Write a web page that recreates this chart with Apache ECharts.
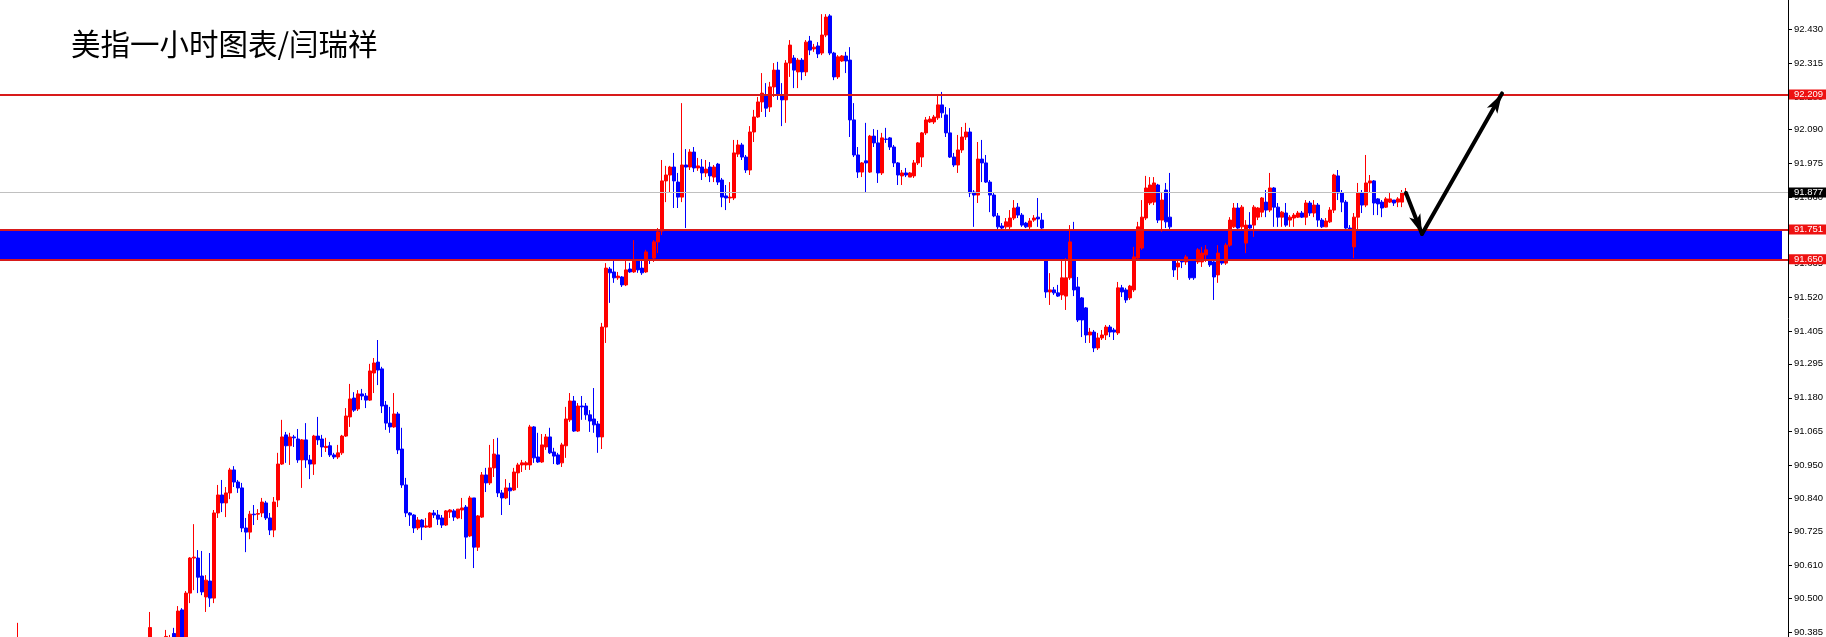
<!DOCTYPE html>
<html>
<head>
<meta charset="utf-8">
<script src="https://cdn.jsdelivr.net/npm/echarts@6/dist/echarts.min.js"></script>
<style>
html,body{margin:0;padding:0;background:#fff;}
#chart{width:1826px;height:637px;}
</style>
</head>
<body>
<div id="chart"></div>
<script>
// ---------------- data ----------------
const TITLE = '美指一小时图表/闫瑞祥';

// hourly bars, oldest first; null = bar lies below the visible price range
const OPEN = [
  90.33, null, null, null, null, null, null, null, null, null,
  null, null, null, null, null, null, null, null, null, null,
  null, null, null, null, null, null, null, null, null, null,
  null, null, null, 90.34, null, null, null, 90.33, 90.34, 90.38,
  90.35, 90.460, 90.36, 90.517, 90.636, 90.636, 90.575, 90.504, 90.558, 90.500,
  90.789, 90.850, 90.823, 90.857, 90.935, 90.894, 90.874, 90.738, 90.724, 90.785,
  90.785, 90.789, 90.823, 90.772, 90.731, 90.833, 90.955, 91.054, 91.017, 91.047,
  91.040, 90.969, 91.037, 90.969, 90.955, 91.050, 91.040, 91.011, 91.017, 90.986,
  90.979, 90.993, 91.050, 91.115, 91.179, 91.142, 91.193, 91.186, 91.172, 91.264,
  91.301, 91.278, 91.155, 91.094, 91.081, 91.125, 91.006, 90.884, 90.789, 90.782,
  90.738, 90.765, 90.741, 90.741, 90.789, 90.782, 90.772, 90.748, 90.792, 90.796,
  90.772, 90.799, 90.809, 90.711, 90.840, 90.673, 90.775, 90.918, 90.891, 90.942,
  90.986, 90.857, 90.840, 90.874, 90.867, 90.925, 90.952, 90.952, 90.952, 91.081,
  90.979, 90.962, 91.013, 91.047, 90.996, 90.986, 90.959, 91.017, 91.105, 91.169,
  91.067, 91.152, 91.152, 91.122, 91.108, 91.091, 91.047, 91.420, 91.617, 91.607,
  91.587, 91.590, 91.563, 91.617, 91.607, 91.648, 91.620, 91.607, 91.698, 91.654,
  91.709, 91.746, 91.916, 91.936, 91.963, 91.912, 91.861, 91.970, 91.963, 92.014,
  91.960, 91.963, 91.943, 91.963, 91.929, 91.973, 91.919, 91.865, 91.858, 91.858,
  92.007, 92.038, 91.997, 91.953, 92.082, 92.133, 92.184, 92.208, 92.167, 92.235,
  92.292, 92.208, 92.191, 92.316, 92.333, 92.286, 92.326, 92.286, 92.391, 92.364,
  92.374, 92.350, 92.411, 92.476, 92.350, 92.269, 92.323, 92.340, 92.326, 92.123,
  92.004, 91.946, 91.984, 91.946, 92.068, 92.045, 91.943, 92.058, 92.062, 92.031,
  91.977, 91.933, 91.943, 91.929, 91.933, 91.977, 91.997, 92.079, 92.116, 92.116,
  92.130, 92.174, 92.140, 92.079, 91.997, 91.970, 92.021, 92.065, 92.082, 91.878,
  91.868, 91.990, 91.977, 91.912, 91.868, 91.797, 91.763, 91.760, 91.760, 91.790,
  91.827, 91.800, 91.773, 91.760, 91.783, 91.793, 91.783, 91.732, 91.539, 91.546,
  91.536, 91.529, 91.525, 91.587, 91.665, 91.556, 91.519, 91.485, 91.393, 91.403,
  91.349, 91.383, 91.393, 91.420, 91.410, 91.400, 91.553, 91.546, 91.519, 91.546,
  91.654, 91.688, 91.790, 91.841, 91.844, 91.902, 91.783, 91.885, 91.793, 91.715,
  91.624, 91.648, 91.641, 91.648, 91.648, 91.641, 91.641, 91.665, 91.648, 91.641,
  91.597, 91.648, 91.637, 91.698, 91.760, 91.824, 91.760, 91.705, 91.766, 91.766,
  91.793, 91.810, 91.844, 91.817, 91.892, 91.827, 91.793, 91.807, 91.783, 91.790,
  91.793, 91.807, 91.793, 91.841, 91.807, 91.834, 91.783, 91.760, 91.777, 91.817,
  91.933, 91.875, 91.844, 91.756, 91.692, 91.793, 91.875, 91.834, 91.909, 91.916,
  91.855, 91.844, 91.827, 91.844, 91.851, 91.844, 91.844, 91.868
];
const CLOSE = [
  90.36, null, null, null, null, null, null, null, null, null,
  null, null, null, null, null, null, null, null, null, null,
  null, null, null, null, null, null, null, null, null, null,
  null, null, null, 90.40, null, null, null, 90.37, 90.36, 90.34,
  90.456, 90.36, 90.517, 90.636, 90.639, 90.571, 90.521, 90.561, 90.500, 90.789,
  90.850, 90.823, 90.857, 90.935, 90.894, 90.874, 90.738, 90.724, 90.785, 90.783,
  90.787, 90.826, 90.772, 90.731, 90.826, 90.955, 91.047, 91.017, 91.047, 91.044,
  90.969, 91.037, 90.969, 90.955, 91.050, 91.037, 91.013, 91.015, 90.986, 90.979,
  90.993, 91.050, 91.118, 91.176, 91.138, 91.193, 91.186, 91.172, 91.271, 91.298,
  91.274, 91.152, 91.094, 91.081, 91.125, 91.003, 90.884, 90.789, 90.782, 90.738,
  90.765, 90.741, 90.745, 90.789, 90.782, 90.768, 90.748, 90.796, 90.799, 90.775,
  90.802, 90.806, 90.707, 90.840, 90.673, 90.779, 90.918, 90.891, 90.942, 90.989,
  90.857, 90.840, 90.874, 90.864, 90.928, 90.952, 90.959, 90.959, 91.081, 90.976,
  90.962, 91.020, 91.047, 90.993, 90.982, 90.955, 91.020, 91.108, 91.169, 91.067,
  91.152, 91.149, 91.122, 91.101, 91.088, 91.047, 91.420, 91.620, 91.604, 91.587,
  91.593, 91.563, 91.614, 91.607, 91.648, 91.614, 91.604, 91.675, 91.665, 91.709,
  91.743, 91.916, 91.936, 91.963, 91.916, 91.861, 91.970, 91.963, 92.014, 91.960,
  91.967, 91.943, 91.956, 91.933, 91.963, 91.912, 91.861, 91.858, 91.861, 92.011,
  92.038, 91.997, 91.953, 92.082, 92.133, 92.184, 92.214, 92.163, 92.235, 92.292,
  92.208, 92.191, 92.316, 92.377, 92.292, 92.326, 92.286, 92.387, 92.360, 92.370,
  92.347, 92.411, 92.472, 92.350, 92.269, 92.337, 92.340, 92.323, 92.123, 92.004,
  91.946, 91.977, 91.977, 92.068, 92.045, 91.943, 92.062, 92.057, 92.031, 91.977,
  91.936, 91.943, 91.936, 91.943, 91.977, 92.045, 92.079, 92.123, 92.126, 92.133,
  92.174, 92.147, 92.079, 91.997, 91.970, 92.021, 92.065, 92.082, 91.875, 91.868,
  91.990, 91.977, 91.912, 91.868, 91.797, 91.760, 91.756, 91.777, 91.790, 91.824,
  91.800, 91.766, 91.760, 91.780, 91.790, 91.787, 91.756, 91.539, 91.546, 91.536,
  91.525, 91.587, 91.587, 91.709, 91.546, 91.444, 91.444, 91.393, 91.403, 91.349,
  91.383, 91.393, 91.420, 91.403, 91.403, 91.553, 91.539, 91.512, 91.559, 91.658,
  91.760, 91.793, 91.892, 91.902, 91.909, 91.783, 91.851, 91.777, 91.760, 91.614,
  91.637, 91.641, 91.658, 91.587, 91.587, 91.682, 91.671, 91.682, 91.631, 91.590,
  91.671, 91.637, 91.698, 91.783, 91.824, 91.756, 91.827, 91.766, 91.756, 91.827,
  91.824, 91.858, 91.817, 91.892, 91.827, 91.793, 91.810, 91.766, 91.793, 91.800,
  91.807, 91.793, 91.841, 91.807, 91.834, 91.783, 91.760, 91.780, 91.817, 91.936,
  91.875, 91.844, 91.756, 91.715, 91.793, 91.875, 91.834, 91.909, 91.916, 91.841,
  91.838, 91.824, 91.855, 91.855, 91.841, 91.855, 91.875, 91.877
];
const LOW = [
  90.31, null, null, null, null, null, null, null, null, null,
  null, null, null, null, null, null, null, null, null, null,
  null, null, null, null, null, null, null, null, null, null,
  null, null, null, 90.32, null, null, null, 90.31, 90.32, 90.33,
  90.33, 90.34, 90.34, 90.483, 90.527, 90.517, 90.510, 90.453, 90.470, 90.483,
  90.772, 90.792, 90.775, 90.836, 90.877, 90.857, 90.724, 90.656, 90.700, 90.748,
  90.765, 90.775, 90.765, 90.714, 90.707, 90.809, 90.952, 90.959, 90.952, 91.013,
  90.959, 90.874, 90.942, 90.904, 90.918, 91.020, 90.979, 90.996, 90.979, 90.972,
  90.972, 90.986, 91.047, 91.081, 91.132, 91.135, 91.172, 91.145, 91.169, 91.196,
  91.223, 91.128, 91.071, 91.061, 91.078, 90.989, 90.874, 90.775, 90.745, 90.721,
  90.731, 90.697, 90.738, 90.738, 90.772, 90.748, 90.738, 90.745, 90.772, 90.762,
  90.768, 90.768, 90.633, 90.707, 90.602, 90.660, 90.772, 90.860, 90.884, 90.911,
  90.843, 90.782, 90.836, 90.816, 90.864, 90.874, 90.928, 90.935, 90.935, 90.959,
  90.959, 90.959, 91.003, 90.989, 90.955, 90.952, 90.945, 90.976, 91.098, 91.064,
  91.064, 91.105, 91.105, 91.064, 91.061, 90.993, 91.006, 91.366, 91.502, 91.570,
  91.580, 91.556, 91.559, 91.604, 91.604, 91.604, 91.597, 91.604, 91.634, 91.641,
  91.671, 91.732, 91.844, 91.875, 91.824, 91.824, 91.844, 91.756, 91.953, 91.946,
  91.950, 91.919, 91.929, 91.912, 91.912, 91.902, 91.827, 91.817, 91.841, 91.851,
  91.997, 91.987, 91.943, 91.936, 92.048, 92.130, 92.150, 92.133, 92.150, 92.201,
  92.191, 92.102, 92.113, 92.269, 92.231, 92.231, 92.258, 92.272, 92.343, 92.354,
  92.333, 92.343, 92.404, 92.343, 92.258, 92.262, 92.320, 92.282, 92.065, 91.997,
  91.926, 91.929, 91.878, 91.943, 92.031, 91.909, 91.936, 92.045, 92.021, 91.963,
  91.902, 91.902, 91.929, 91.929, 91.926, 91.970, 91.963, 92.072, 92.113, 92.109,
  92.123, 92.130, 92.065, 91.994, 91.963, 91.943, 92.011, 92.055, 91.861, 91.760,
  91.841, 91.912, 91.909, 91.810, 91.793, 91.749, 91.749, 91.753, 91.749, 91.783,
  91.790, 91.760, 91.756, 91.749, 91.777, 91.760, 91.749, 91.519, 91.495, 91.529,
  91.522, 91.512, 91.478, 91.580, 91.525, 91.437, 91.386, 91.366, 91.366, 91.335,
  91.342, 91.376, 91.376, 91.386, 91.376, 91.393, 91.522, 91.502, 91.512, 91.539,
  91.648, 91.682, 91.783, 91.834, 91.834, 91.773, 91.743, 91.756, 91.715, 91.590,
  91.580, 91.620, 91.631, 91.580, 91.580, 91.634, 91.624, 91.641, 91.624, 91.512,
  91.570, 91.631, 91.631, 91.692, 91.756, 91.739, 91.753, 91.671, 91.753, 91.726,
  91.783, 91.793, 91.793, 91.810, 91.760, 91.760, 91.760, 91.760, 91.760, 91.760,
  91.790, 91.790, 91.766, 91.797, 91.793, 91.760, 91.756, 91.760, 91.773, 91.807,
  91.851, 91.810, 91.753, 91.698, 91.654, 91.749, 91.807, 91.827, 91.875, 91.800,
  91.800, 91.793, 91.824, 91.841, 91.831, 91.827, 91.827, 91.865
];
const HIGH = [
  90.416, null, null, null, null, null, null, null, null, null,
  null, null, null, null, null, null, null, null, null, null,
  null, null, null, null, null, null, null, null, null, null,
  null, null, null, 90.453, null, null, null, 90.392, 90.375, 90.399,
  90.473, 90.466, 90.524, 90.639, 90.751, 90.663, 90.660, 90.578, 90.653, 90.799,
  90.884, 90.901, 90.877, 90.942, 90.948, 90.901, 90.891, 90.772, 90.796, 90.816,
  90.802, 90.840, 90.830, 90.789, 90.843, 90.993, 91.105, 91.064, 91.061, 91.054,
  91.074, 91.040, 91.094, 90.986, 91.054, 91.115, 91.054, 91.044, 91.030, 90.993,
  91.020, 91.054, 91.145, 91.227, 91.199, 91.206, 91.210, 91.196, 91.295, 91.315,
  91.376, 91.285, 91.169, 91.149, 91.196, 91.132, 91.078, 90.908, 90.792, 90.785,
  90.775, 90.768, 90.772, 90.792, 90.799, 90.799, 90.782, 90.799, 90.802, 90.802,
  90.802, 90.840, 90.816, 90.847, 90.840, 90.782, 90.928, 90.942, 91.020, 91.040,
  91.044, 90.867, 90.904, 90.891, 90.942, 90.959, 90.969, 90.965, 91.088, 91.084,
  91.061, 91.057, 91.057, 91.078, 91.010, 90.993, 91.027, 91.149, 91.196, 91.186,
  91.162, 91.186, 91.162, 91.138, 91.213, 91.101, 91.434, 91.637, 91.624, 91.648,
  91.607, 91.593, 91.648, 91.638, 91.715, 91.651, 91.648, 91.682, 91.715, 91.715,
  91.756, 91.987, 91.967, 91.967, 92.011, 91.943, 92.180, 92.024, 92.024, 92.031,
  91.994, 91.990, 91.987, 91.980, 91.970, 91.977, 91.926, 91.902, 91.912, 92.055,
  92.055, 92.045, 92.004, 92.102, 92.157, 92.201, 92.282, 92.248, 92.252, 92.316,
  92.320, 92.248, 92.326, 92.394, 92.343, 92.333, 92.333, 92.394, 92.408, 92.381,
  92.387, 92.482, 92.482, 92.482, 92.354, 92.343, 92.343, 92.354, 92.370, 92.180,
  92.031, 91.980, 92.113, 92.072, 92.092, 92.089, 92.079, 92.096, 92.065, 92.038,
  91.980, 91.953, 91.960, 91.946, 91.987, 92.048, 92.082, 92.133, 92.136, 92.140,
  92.208, 92.218, 92.167, 92.163, 92.011, 92.072, 92.099, 92.113, 92.096, 91.885,
  92.048, 92.055, 92.004, 91.919, 91.875, 91.807, 91.773, 91.790, 91.817, 91.851,
  91.841, 91.807, 91.777, 91.790, 91.800, 91.858, 91.807, 91.749, 91.603, 91.556,
  91.563, 91.648, 91.654, 91.766, 91.777, 91.590, 91.522, 91.488, 91.417, 91.410,
  91.400, 91.410, 91.427, 91.427, 91.417, 91.573, 91.563, 91.553, 91.563, 91.692,
  91.777, 91.851, 91.933, 91.929, 91.929, 91.906, 91.878, 91.909, 91.943, 91.732,
  91.648, 91.654, 91.665, 91.654, 91.658, 91.688, 91.692, 91.698, 91.658, 91.648,
  91.698, 91.671, 91.705, 91.793, 91.841, 91.841, 91.834, 91.783, 91.810, 91.834,
  91.827, 91.861, 91.885, 91.943, 91.895, 91.841, 91.814, 91.841, 91.800, 91.807,
  91.814, 91.814, 91.851, 91.848, 91.851, 91.841, 91.790, 91.790, 91.827, 91.940,
  91.953, 91.885, 91.851, 91.766, 91.807, 91.909, 91.885, 92.004, 91.936, 91.919,
  91.858, 91.851, 91.861, 91.875, 91.851, 91.861, 91.885, 91.892
];

// right-hand price scale labels
const Y_TICKS = [92.430, 92.315, 92.200, 92.090, 91.975, 91.860, 91.750, 91.635, 91.520,
  91.405, 91.295, 91.180, 91.065, 90.950, 90.840, 90.725, 90.610, 90.500, 90.385];

// horizontal levels
const RESISTANCE = 92.209;
const LAST_PRICE = 91.877;
const ZONE_TOP = 91.751;
const ZONE_BOTTOM = 91.650;

// arrow path: [bar slot, price]
const ARROW = [[351, 91.875], [355, 91.736], [375, 92.213]];

// ---------------- chart ----------------
const Y_MIN = 90.368, Y_MAX = 92.530;
const SLOTS = 447;      // bar slots across the chart (incl. right-side shift)
const LEAD = 4;         // empty slots before the first bar
const ZONE_END_SLOT = 445;

const categories = [];
const kdata = [];
for (let j = 0; j < SLOTS; j++) {
  categories.push(String(j));
  const i = j - LEAD;
  if (i >= 0 && i < OPEN.length && OPEN[i] != null) {
    kdata.push([OPEN[i], CLOSE[i], LOW[i], HIGH[i]]);
  } else {
    kdata.push(['-', '-', '-', '-']);
  }
}

const LINE_RED = '#d81a1a';
const TAG_RED = '#ee1111';
const UP = '#ff0000';
const DOWN = '#0000ff';
const FONT = '"Liberation Sans", Arial, sans-serif';
// arrow head (tip up), padded to a square box so it is not stretched
const HEAD = 'path://M10,0 L16,20 L10,15 L4,20 Z M0,0 L0,0 M20,20 L20,20';

function levelLabel(bg) {
  return {
    show: true, position: 'end', distance: 1,
    formatter: p => Number(p.value).toFixed(3),
    color: '#fff', backgroundColor: bg,
    fontFamily: FONT, fontSize: 9.5, lineHeight: 10,
    padding: [0, 8, 0, 5]
  };
}
function level(v, color, width, bg) {
  return { yAxis: v, symbol: 'none', lineStyle: { color: color, width: width, type: 'solid' }, label: levelLabel(bg) };
}
function arrowSeg(a, b) {
  return [
    { coord: a, symbol: 'none', lineStyle: { color: '#000', width: 4, type: 'solid', cap: 'round' }, label: { show: false } },
    { coord: b, symbol: HEAD, symbolSize: 20, symbolOffset: [0, 10] }
  ];
}

const chart = echarts.init(document.getElementById('chart'), null, { renderer: 'canvas' });
chart.setOption({
  backgroundColor: '#fff',
  animation: false,
  title: {
    text: TITLE, left: 71, top: 29, padding: 0,
    textStyle: { fontSize: 29.5, fontWeight: 'normal', color: '#000', fontFamily: '"Noto Sans CJK SC", sans-serif' }
  },
  grid: { left: 0, right: 38, top: 0, bottom: 0, containLabel: false, outerBoundsMode: 'none' },
  xAxis: { type: 'category', data: categories, show: false, boundaryGap: true },
  yAxis: {
    type: 'value', position: 'right', min: Y_MIN, max: Y_MAX,
    splitLine: { show: false },
    axisLine: { show: true, lineStyle: { color: '#000', width: 1 } },
    axisTick: { show: true, length: 4, customValues: Y_TICKS, lineStyle: { color: '#000' } },
    axisLabel: {
      customValues: Y_TICKS, margin: 6, color: '#000', fontFamily: FONT, fontSize: 9.5,
      formatter: v => Number(v).toFixed(3)
    }
  },
  series: [{
    type: 'candlestick',
    data: kdata,
    barWidth: 3,
    clip: true,
    silent: true,
    itemStyle: { color: UP, color0: DOWN, borderColor: UP, borderColor0: DOWN, borderWidth: 1 },
    markArea: {
      silent: true,
      label: { show: false },
      itemStyle: { color: '#0000ff', opacity: 1 },
      data: [[{ yAxis: ZONE_TOP }, { xAxis: ZONE_END_SLOT, yAxis: ZONE_BOTTOM }]]
    },
    markLine: {
      silent: true,
      animation: false,
      precision: 3,
      symbol: ['none', 'none'],
      lineStyle: { type: 'solid' },
      emphasis: { disabled: true },
      data: [
        level(LAST_PRICE, '#c0c0c0', 1, '#000'),
        level(RESISTANCE, LINE_RED, 2, TAG_RED),
        level(ZONE_TOP, LINE_RED, 2, TAG_RED),
        level(ZONE_BOTTOM, LINE_RED, 2, TAG_RED),
        arrowSeg(ARROW[0], ARROW[1]),
        arrowSeg(ARROW[1], ARROW[2])
      ]
    }
  }]
});
</script>
</body>
</html>
